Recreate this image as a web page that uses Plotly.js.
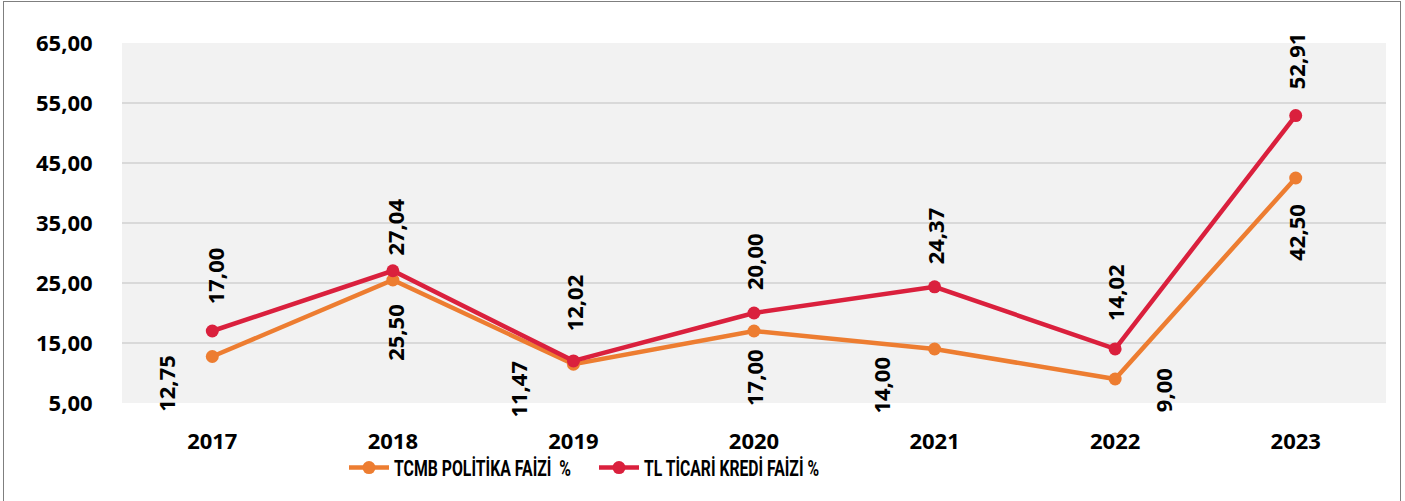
<!DOCTYPE html>
<html>
<head>
<meta charset="utf-8">
<script src="https://cdn.plot.ly/plotly-3.0.1.min.js"></script>
<style>
html,body{margin:0;padding:0;background:#fff;}
#wrap{position:absolute;left:3px;top:1px;width:1398px;height:504px;border:1.5px solid #7f7f7f;box-sizing:border-box;}
#chart{position:absolute;left:0;top:0;width:1405px;height:501px;}
</style>
</head>
<body>
<div id="wrap"></div>
<div id="chart"></div>
<script>
const years = ['2017','2018','2019','2020','2021','2022','2023'];
const policyRate = [12.75, 25.50, 11.47, 17.00, 14.00, 9.00, 42.50];
const loanRate = [17.00, 27.04, 12.02, 20.00, 24.37, 14.02, 52.91];
const policyName = 'TCMB POLİTİKA FAİZİ  %';
const loanName = 'TL TİCARİ KREDİ FAİZİ %';

// label offsets in pixels (layout only)
const policyOffX = [-47, 2, -55, 0, -54, 48, 0];
const policyOffY = [-27, -52, -25, -47, -36, -11, -54];
const loanOffX = [3, 2, 0, 0, 0, 0, 0];
const loanOffY = [55, 44, 58, 51, 51, 56, 55];

const orange = '#ED7D31';
const red = '#DA203D';
const font = 'Open Sans, Noto Sans, sans-serif';
const legendFont = 'Roboto, sans-serif';
const legendTextWidths = [177, 175];

const fmt = v => v.toFixed(2).replace('.', ',');

const annotations = [];
years.forEach((y, i) => {
  annotations.push({x: i, y: policyRate[i], xref: 'x', yref: 'y', text: fmt(policyRate[i]),
    showarrow: false, textangle: -90, xshift: policyOffX[i], yshift: policyOffY[i],
    font: {family: font, size: 22, color: '#000', weight: 'bold'}});
  annotations.push({x: i, y: loanRate[i], xref: 'x', yref: 'y', text: fmt(loanRate[i]),
    showarrow: false, textangle: -90, xshift: loanOffX[i], yshift: loanOffY[i],
    font: {family: font, size: 22, color: '#000', weight: 'bold'}});
});

const traces = [
  {x: years, y: policyRate, name: policyName, type: 'scatter', mode: 'lines+markers',
   line: {color: orange, width: 4.5}, marker: {color: orange, size: 13}, cliponaxis: false},
  {x: years, y: loanRate, name: loanName, type: 'scatter', mode: 'lines+markers',
   line: {color: red, width: 4.5}, marker: {color: red, size: 13}, cliponaxis: false}
];

const layout = {
  width: 1405, height: 501,
  margin: {l: 122, r: 19, t: 43, b: 98, autoexpand: false},
  paper_bgcolor: 'rgba(0,0,0,0)',
  plot_bgcolor: '#F2F2F2',
  separators: ',.',
  showlegend: true,
  legend: {orientation: 'h', x: (344 - 122) / 1264, xanchor: 'left', y: -0.18, yanchor: 'middle',
    entrywidth: 195, entrywidthmode: 'pixels',
    font: {family: legendFont, size: 22, color: '#000', weight: 'bold'}, itemwidth: 40, traceorder: 'normal'},
  xaxis: {type: 'category', range: [-0.5, 6.5], showgrid: false, zeroline: false, showline: false,
    ticks: 'outside', ticklen: 19, tickcolor: 'rgba(0,0,0,0)',
    tickfont: {family: font, size: 22, color: '#000', weight: 'bold'}},
  yaxis: {range: [5, 65], tick0: 5, dtick: 10, tickformat: '.2f', showgrid: true,
    gridcolor: '#D9D9D9', gridwidth: 2, zeroline: false, showline: false,
    ticks: 'outside', ticklen: 24, tickcolor: 'rgba(0,0,0,0)',
    tickfont: {family: font, size: 22, color: '#000', weight: 'bold'}},
  annotations: annotations
};

const gd = document.getElementById('chart');
Plotly.newPlot(gd, traces, layout, {displayModeBar: false, staticPlot: true}).then(() => {
  gd.querySelectorAll('.legendtext').forEach((t, i) => {
    t.setAttribute('textLength', legendTextWidths[i]);
    t.setAttribute('lengthAdjust', 'spacingAndGlyphs');
  });
});
</script>
</body>
</html>
